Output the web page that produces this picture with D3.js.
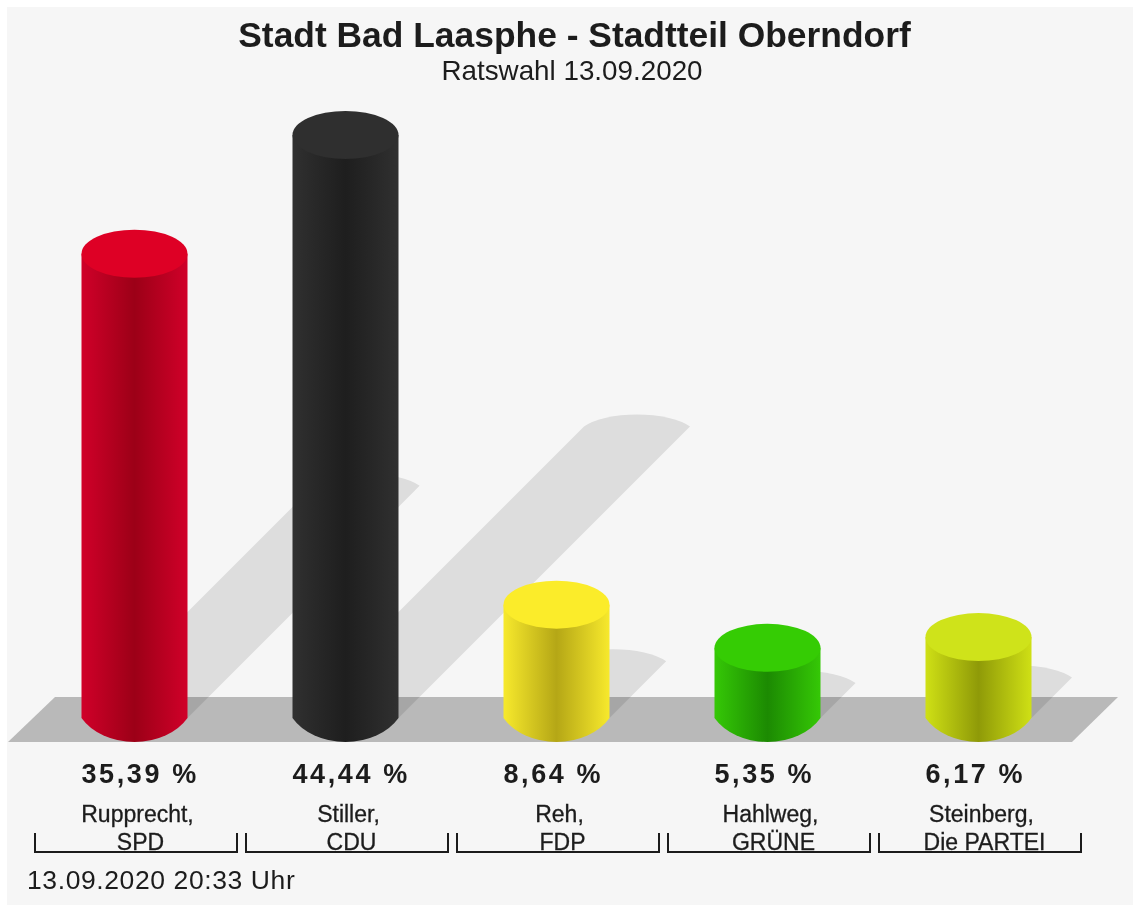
<!DOCTYPE html>
<html><head><meta charset="utf-8">
<script src="https://cdnjs.cloudflare.com/ajax/libs/d3/7.8.5/d3.min.js"></script>
<style>html,body{margin:0;padding:0;background:#fff}svg{display:block;filter:blur(.6px)}text{font-family:"Liberation Sans",Arial,sans-serif;fill:#1c1c1c}</style>
</head><body><svg id="c" width="1133" height="906"></svg>
<script>
const names=["Rupprecht,","Stiller,","Reh,","Hahlweg,","Steinberg,"];
const parties=["SPD","CDU","FDP","GRÜNE","Die PARTEI"];
const values=[35.39,44.44,8.64,5.35,6.17];
const valueLabels=["35,39 %","44,44 %","8,64 %","5,35 %","6,17 %"];
const sideEdge=["#d00029","#303030","#f7e92c","#35c806","#cfe015"];
const sideDark=["#9c0017","#1e1e1e","#b5a716","#1c8a02","#8f9a08"];
const topFill=["#de0025","#2f2f2f","#fbec2a","#35cc04","#cfe31a"];
const title="Stadt Bad Laasphe - Stadtteil Oberndorf";
const subtitle="Ratswahl 13.09.2020";
const stamp="13.09.2020 20:33 Uhr";

const svg=d3.select("#c");
const idx=d3.range(values.length);
const x=d3.scaleBand().domain(idx).range([29,1084]);
const cx=i=>x(i)+x.bandwidth()/2;
const y=d3.scaleLinear().domain([0,44.44]).range([718,135]);
const rx=53, ry=24;

svg.append("rect").attr("x",7).attr("y",7).attr("width",1126).attr("height",898).attr("fill","#f6f6f6");

const defs=svg.append("defs");
idx.forEach(i=>{
  const g=defs.append("linearGradient").attr("id","g"+i);
  [[0,sideEdge[i]],[.5,sideDark[i]],[1,sideEdge[i]]].forEach(s=>g.append("stop").attr("offset",s[0]).attr("stop-color",s[1]));
});

// floor
svg.append("path").attr("d",d3.line()([[8,742],[55,697],[1118,697],[1072,742]])+"Z").attr("fill","#b9b9b9");

// shadows
svg.selectAll(".sh").data(idx).join("path").attr("fill","#000").attr("fill-opacity",.1)
 .attr("d",i=>{
   const off=(y(0)-y(values[i]))/2, c=cx(i), b=y(0);
   return `M${c-rx},${b}L${c-rx+off},${b-off}A60,22.6 0 0 1 ${c+rx+off},${b-off}L${c+rx},${b}Z`;
 });

// cylinders
svg.selectAll(".body").data(idx).join("path").attr("fill",i=>`url(#g${i})`)
 .attr("d",i=>{
   const c=cx(i), t=y(values[i]), b=y(0);
   return `M${c-rx},${t}L${c+rx},${t}L${c+rx},${b}A60,45 0 0 1 ${c-rx},${b}Z`;
 });
svg.selectAll(".top").data(idx).join("ellipse")
 .attr("cx",cx).attr("cy",i=>y(values[i])).attr("rx",rx).attr("ry",ry).attr("fill",i=>topFill[i]);

// titles
svg.append("text").attr("x",574.5).attr("y",47).attr("text-anchor","middle").attr("font-size",35.4).attr("font-weight",700).text(title);
svg.append("text").attr("x",572).attr("y",80).attr("text-anchor","middle").attr("font-size",27.8).attr("fill","#333").text(subtitle);

// values
svg.selectAll(".v").data(idx).join("text").attr("x",i=>cx(i)-rx).attr("y",783)
 .attr("font-size",27).attr("font-weight",700).attr("letter-spacing",2.6).text(i=>valueLabels[i]);

// labels
svg.selectAll(".n").data(idx).join("text").attr("x",i=>cx(i)+3).attr("y",822).attr("text-anchor","middle")
 .attr("font-size",23).attr("stroke","#1c1c1c").attr("stroke-width",.3).text(i=>names[i]);
svg.selectAll(".p").data(idx).join("text").attr("x",i=>cx(i)+6).attr("y",850).attr("text-anchor","middle")
 .attr("font-size",23).attr("stroke","#1c1c1c").attr("stroke-width",.3).text(i=>parties[i]);

// brackets
svg.selectAll(".br").data(idx).join("path").attr("fill","none").attr("stroke","#1c1c1c").attr("stroke-width",2)
 .attr("d",i=>{const a=x(i)+6,b=x(i)+x.bandwidth()-3;return `M${a},833V852H${b}V833`;});

svg.append("text").attr("x",27).attr("y",889).attr("font-size",26.5).attr("letter-spacing",.6).attr("fill","#333").text(stamp);
</script></body></html>
